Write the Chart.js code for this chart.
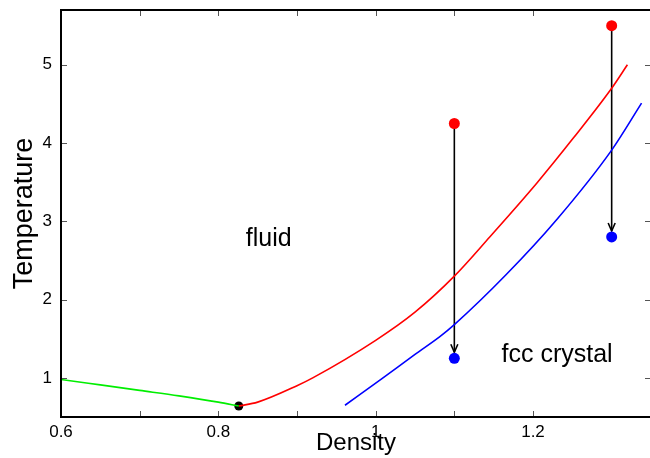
<!DOCTYPE html>
<html>
<head>
<meta charset="utf-8">
<script src="https://cdn.jsdelivr.net/npm/chart.js@4.4.1/dist/chart.umd.min.js"></script>
<style>
  html, body { margin: 0; padding: 0; background: #fff; overflow: hidden; }
  canvas { display: block; }
</style>
</head>
<body>
<canvas id="phaseCanvas" width="652" height="458"></canvas>
<script>
/* Phase diagram data */
// liquid-gas branch (green), ends at the triple point
var gasX = [0.6, 0.65, 0.7, 0.75, 0.8, 0.826];
var gasT = [0.98, 0.91, 0.84, 0.77, 0.69, 0.64];
// freezing line (red)
var freezeX = [0.826, 0.85, 0.9, 0.92, 1.0, 1.05, 1.1, 1.145, 1.205, 1.251, 1.3, 1.32];
var freezeT = [0.64, 0.69, 0.90, 1.0, 1.48, 1.84, 2.30, 2.80, 3.49, 4.06, 4.70, 5.0];
// melting line (blue)
var meltX = [0.961, 1.008, 1.05, 1.082, 1.1, 1.166, 1.23, 1.3, 1.338];
var meltT = [0.65, 0.99, 1.3, 1.53, 1.68, 2.32, 3.02, 3.91, 4.51];
// triple point
var tripleX = [0.826];
var tripleT = [0.64];
// quench start (red) and end (blue) states
var startX = [1.1, 1.3];
var startT = [4.25, 5.5];
var endX = [1.1, 1.3];
var endT = [1.25, 2.8];
// region labels
var labelText = ['fluid', 'fcc crystal'];
var labelX = [0.835, 1.16];
var labelT = [2.68, 1.2];

var FONT = '"Liberation Sans", Arial, Helvetica, sans-serif';

function toPoints(xs, ys) {
    var pts = [];
    for (var i = 0; i < xs.length; i++) {
        pts.push({x: xs[i], y: ys[i]});
    }
    return pts;
}

/* arrows, inward ticks, frame and region labels */
var phasePlugin = {
    id: 'phaseExtras',
    beforeDatasetsDraw: function(chart) {
        var ctx = chart.ctx;
        var xs = chart.scales.x, ys = chart.scales.y;
        ctx.save();
        ctx.strokeStyle = '#000';
        ctx.lineWidth = 1.6;
        for (var i = 0; i < startX.length; i++) {
            var x0 = xs.getPixelForValue(startX[i]);
            var y0 = ys.getPixelForValue(startT[i]);
            var x1 = xs.getPixelForValue(endX[i]);
            var y1 = ys.getPixelForValue(endT[i]) - 6;
            ctx.beginPath();
            ctx.moveTo(x0, y0);
            ctx.lineTo(x1, y1);
            ctx.stroke();
            // arrow head
            ctx.beginPath();
            ctx.moveTo(x1 - 3.5, y1 - 8);
            ctx.lineTo(x1, y1);
            ctx.lineTo(x1 + 3.5, y1 - 8);
            ctx.stroke();
        }
        ctx.restore();
    },
    afterDatasetsDraw: function(chart) {
        var ctx = chart.ctx;
        var a = chart.chartArea;
        var xs = chart.scales.x, ys = chart.scales.y;
        ctx.save();
        // inward ticks on all four sides
        ctx.strokeStyle = '#555';
        ctx.lineWidth = 1;
        xs.ticks.forEach(function(t) {
            var px = Math.round(xs.getPixelForValue(t.value)) + 0.5;
            ctx.beginPath();
            ctx.moveTo(px, a.bottom); ctx.lineTo(px, a.bottom - 6);
            ctx.moveTo(px, a.top); ctx.lineTo(px, a.top + 6);
            ctx.stroke();
        });
        ys.ticks.forEach(function(t) {
            var py = Math.round(ys.getPixelForValue(t.value)) + 0.5;
            ctx.beginPath();
            ctx.moveTo(a.left, py); ctx.lineTo(a.left + 6, py);
            ctx.moveTo(a.right, py); ctx.lineTo(a.right - 6, py);
            ctx.stroke();
        });
        // frame
        ctx.strokeStyle = '#000';
        ctx.lineWidth = 2;
        ctx.strokeRect(a.left, a.top, a.right - a.left, a.bottom - a.top);
        // region labels
        ctx.fillStyle = '#000';
        ctx.font = '25px ' + FONT;
        ctx.textAlign = 'left';
        ctx.textBaseline = 'alphabetic';
        for (var i = 0; i < labelText.length; i++) {
            ctx.fillText(labelText[i], xs.getPixelForValue(labelX[i]), ys.getPixelForValue(labelT[i]));
        }
        ctx.restore();
    }
};

function curve(label, xs, ys, colour) {
    return {
        label: label,
        data: toPoints(xs, ys),
        showLine: true,
        borderColor: colour,
        borderWidth: 1.6,
        pointRadius: 0,
        cubicInterpolationMode: 'monotone'
    };
}

function dots(label, xs, ys, colour, r) {
    return {
        label: label,
        data: toPoints(xs, ys),
        showLine: false,
        backgroundColor: colour,
        borderColor: colour,
        pointRadius: r,
        pointBorderWidth: 0,
        clip: false
    };
}

var ctx = document.getElementById('phaseCanvas').getContext('2d');
var chart = new Chart(ctx, {
    type: 'scatter',
    data: {
        datasets: [
            curve('gas-liquid', gasX, gasT, '#00ee00'),
            curve('freezing', freezeX, freezeT, '#ff0000'),
            curve('melting', meltX, meltT, '#0000ff'),
            dots('start', startX, startT, '#ff0000', 5.5),
            dots('end', endX, endT, '#0000ff', 5.5),
            dots('triple', tripleX, tripleT, '#000000', 4.5)
        ]
    },
    options: {
        responsive: false,
        animation: false,
        layout: {
            autoPadding: false,
            padding: { top: 10, right: 1, left: 0, bottom: 0 }
        },
        plugins: {
            legend: { display: false },
            tooltip: { enabled: false }
        },
        scales: {
            x: {
                type: 'linear',
                min: 0.6,
                max: 1.35,
                grid: { display: false, drawTicks: false },
                border: { display: false },
                afterFit: function(s) {
                    s.height = 41;
                    s.paddingLeft = 0;
                    s.paddingRight = 0;
                },
                afterBuildTicks: function(s) {
                    s.ticks = s.ticks.filter(function(t) {
                        return Math.abs(t.value * 10 - Math.round(t.value * 10)) < 1e-6;
                    });
                },
                ticks: {
                    stepSize: 0.1,
                    padding: 5,
                    maxRotation: 0,
                    autoSkip: false,
                    color: '#000',
                    font: { family: FONT, size: 17 },
                    callback: function(v) {
                        var r = Math.round(v * 10);
                        if (r % 2 !== 0) return '';
                        return String(r / 10);
                    }
                },
                title: {
                    display: true,
                    text: 'Density',
                    color: '#000',
                    font: { family: FONT, size: 24 },
                    padding: { top: 0, bottom: 0 }
                }
            },
            y: {
                type: 'linear',
                min: 0.5,
                max: 5.7,
                grid: { display: false, drawTicks: false },
                border: { display: false },
                afterFit: function(s) {
                    s.width = 61;
                    s.paddingTop = 0;
                    s.paddingBottom = 0;
                },
                afterBuildTicks: function(s) {
                    s.ticks = s.ticks.filter(function(t) {
                        return Math.abs(t.value - Math.round(t.value)) < 1e-6;
                    });
                },
                ticks: {
                    stepSize: 1,
                    padding: 9,
                    color: '#000',
                    font: { family: FONT, size: 17 }
                },
                title: {
                    display: true,
                    text: 'Temperature',
                    color: '#000',
                    font: { family: FONT, size: 27 },
                    padding: { top: 8, bottom: 0 }
                }
            }
        }
    },
    plugins: [phasePlugin]
});
</script>
</body>
</html>
